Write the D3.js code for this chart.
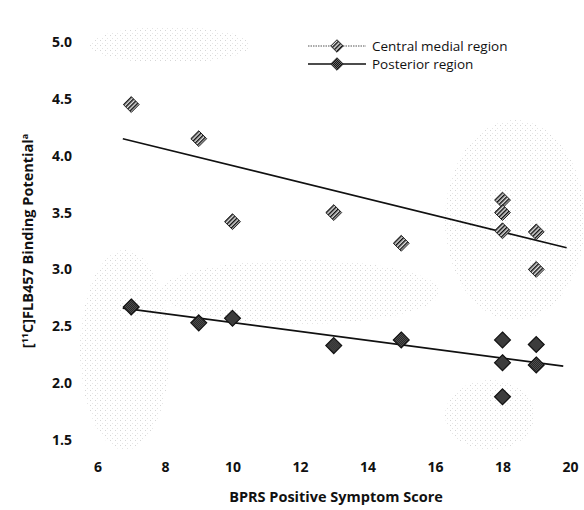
<!DOCTYPE html>
<html>
<head>
<meta charset="utf-8">
<script src="https://cdn.jsdelivr.net/npm/d3@7"></script>
<style>
  body { margin: 0; background: #fff; }
  svg { display: block; font-family: "Open Sans", "Noto Sans", sans-serif; }
</style>
</head>
<body>
<div id="chart"></div>
<script>
// values
var centralScore = [7, 9, 10, 13, 15, 18, 18, 18, 19, 19];
var centralBP = [4.45, 4.15, 3.42, 3.50, 3.23, 3.61, 3.50, 3.34, 3.33, 3.00];
var posteriorScore = [7, 9, 10, 13, 15, 18, 18, 18, 19, 19];
var posteriorBP = [2.67, 2.53, 2.57, 2.33, 2.38, 2.38, 2.18, 1.88, 2.34, 2.16];
// regression lines (start / end)
var centralFit = [[6.75, 4.15], [19.9, 3.19]];
var posteriorFit = [[6.75, 2.66], [19.8, 2.15]];
var xTicks = [6, 8, 10, 12, 14, 16, 18, 20];
var yTicks = [1.5, 2.0, 2.5, 3.0, 3.5, 4.0, 4.5, 5.0];
var seriesNames = ["Central medial region", "Posterior region"];

var width = 584, height = 510;
var svg = d3.select("#chart").append("svg")
  .attr("width", width)
  .attr("height", height);

var x = d3.scaleLinear().domain([6, 20]).range([97.5, 570]);
var y = d3.scaleLinear().domain([1.5, 5.0]).range([440, 42]);

var defs = svg.append("defs");
// hatched fill for central medial region
var hatch = defs.append("pattern")
  .attr("id", "hatch")
  .attr("patternUnits", "userSpaceOnUse")
  .attr("width", 3).attr("height", 3)
  .attr("patternTransform", "rotate(45)");
hatch.append("rect").attr("width", 3).attr("height", 3).attr("fill", "#e4e4e4");
hatch.append("rect").attr("width", 1.5).attr("height", 3).attr("fill", "#111");
// checkered fill for posterior region
var check = defs.append("pattern")
  .attr("id", "check")
  .attr("patternUnits", "userSpaceOnUse")
  .attr("width", 2).attr("height", 2);
check.append("rect").attr("width", 2).attr("height", 2).attr("fill", "#666");
check.append("rect").attr("width", 1).attr("height", 1).attr("fill", "#111");
check.append("rect").attr("x", 1).attr("y", 1).attr("width", 1).attr("height", 1).attr("fill", "#111");
// scanner stipple
var stip = defs.append("pattern")
  .attr("id", "stip")
  .attr("patternUnits", "userSpaceOnUse")
  .attr("width", 5).attr("height", 5);
stip.append("rect").attr("width", 1).attr("height", 1).attr("fill", "#b5b5b5");
stip.append("rect").attr("x", 2).attr("y", 3).attr("width", 1).attr("height", 1).attr("fill", "#d0d0d0");

var blots = svg.append("g").attr("opacity", 0.55);
blots.append("ellipse").attr("cx", 125).attr("cy", 350).attr("rx", 45).attr("ry", 100).attr("fill", "url(#stip)");
blots.append("ellipse").attr("cx", 300).attr("cy", 292).attr("rx", 140).attr("ry", 32).attr("fill", "url(#stip)");
blots.append("ellipse").attr("cx", 515).attr("cy", 220).attr("rx", 70).attr("ry", 100).attr("fill", "url(#stip)");
blots.append("ellipse").attr("cx", 490).attr("cy", 415).attr("rx", 45).attr("ry", 35).attr("fill", "url(#stip)");
blots.append("ellipse").attr("cx", 170).attr("cy", 45).attr("rx", 80).attr("ry", 18).attr("fill", "url(#stip)");

// axes without lines
var xAxis = svg.append("g")
  .attr("transform", "translate(0,454)")
  .call(d3.axisBottom(x).tickValues(xTicks).tickSize(0).tickPadding(8).tickFormat(d3.format("d")));
var yAxis = svg.append("g")
  .attr("transform", "translate(80,0)")
  .call(d3.axisLeft(y).tickValues(yTicks).tickSize(0).tickPadding(8).tickFormat(d3.format(".1f")));
svg.selectAll(".domain").remove();
svg.selectAll(".tick text")
  .attr("font-family", "'Open Sans', sans-serif")
  .attr("font-size", 14)
  .attr("font-weight", "bold")
  .attr("fill", "#111");

// axis titles
svg.append("text")
  .attr("x", 336).attr("y", 502)
  .attr("text-anchor", "middle")
  .attr("font-size", 14.5).attr("font-weight", "bold").attr("fill", "#111")
  .text("BPRS Positive Symptom Score");

var yl = svg.append("text")
  .attr("transform", "translate(33,241) rotate(-90)")
  .attr("text-anchor", "middle")
  .attr("font-size", 14.5).attr("font-weight", "bold").attr("fill", "#111");
yl.append("tspan").text("[");
yl.append("tspan").attr("font-size", 9).attr("dy", -5).text("11");
yl.append("tspan").attr("dy", 5).text("C]FLB457 Binding Potential");
yl.append("tspan").attr("font-size", 9).attr("dy", -5).text("a");

// regression lines
var line = d3.line().x(function(d) { return x(d[0]); }).y(function(d) { return y(d[1]); });
svg.append("path").datum(centralFit).attr("d", line)
  .attr("fill", "none").attr("stroke", "#111").attr("stroke-width", 1.6);
svg.append("path").datum(posteriorFit).attr("d", line)
  .attr("fill", "none").attr("stroke", "#111").attr("stroke-width", 1.8);

var diamond = d3.symbol().type(d3.symbolDiamond2).size(160);
var diamondSmall = d3.symbol().type(d3.symbolDiamond2).size(100);

svg.append("g").selectAll("path")
  .data(d3.zip(centralScore, centralBP))
  .enter().append("path")
  .attr("transform", function(d) { return "translate(" + x(d[0]) + "," + y(d[1]) + ")"; })
  .attr("d", diamond)
  .attr("fill", "url(#hatch)")
  .attr("stroke", "#222").attr("stroke-width", 1);

svg.append("g").selectAll("path")
  .data(d3.zip(posteriorScore, posteriorBP))
  .enter().append("path")
  .attr("transform", function(d) { return "translate(" + x(d[0]) + "," + y(d[1]) + ")"; })
  .attr("d", diamond)
  .attr("fill", "url(#check)")
  .attr("stroke", "#111").attr("stroke-width", 1.2);

// legend
var legend = svg.append("g").attr("transform", "translate(308,46)");
var fills = ["url(#hatch)", "url(#check)"];
seriesNames.forEach(function(name, i) {
  var row = legend.append("g").attr("transform", "translate(0," + (i * 18) + ")");
  row.append("line").attr("x1", 0).attr("x2", 58).attr("y1", 0).attr("y2", 0)
    .attr("stroke", i === 0 ? "#555" : "#111")
    .attr("stroke-width", i === 0 ? 1.2 : 1.6)
    .attr("stroke-dasharray", i === 0 ? "1.5,1" : null);
  row.append("path").attr("transform", "translate(29,0)").attr("d", diamondSmall)
    .attr("fill", fills[i]).attr("stroke", "#222").attr("stroke-width", 1);
  row.append("text").attr("x", 64).attr("y", 0).attr("dy", "0.35em")
    .attr("font-size", 13.5).attr("fill", "#111")
    .text(name);
});
</script>
</body>
</html>
